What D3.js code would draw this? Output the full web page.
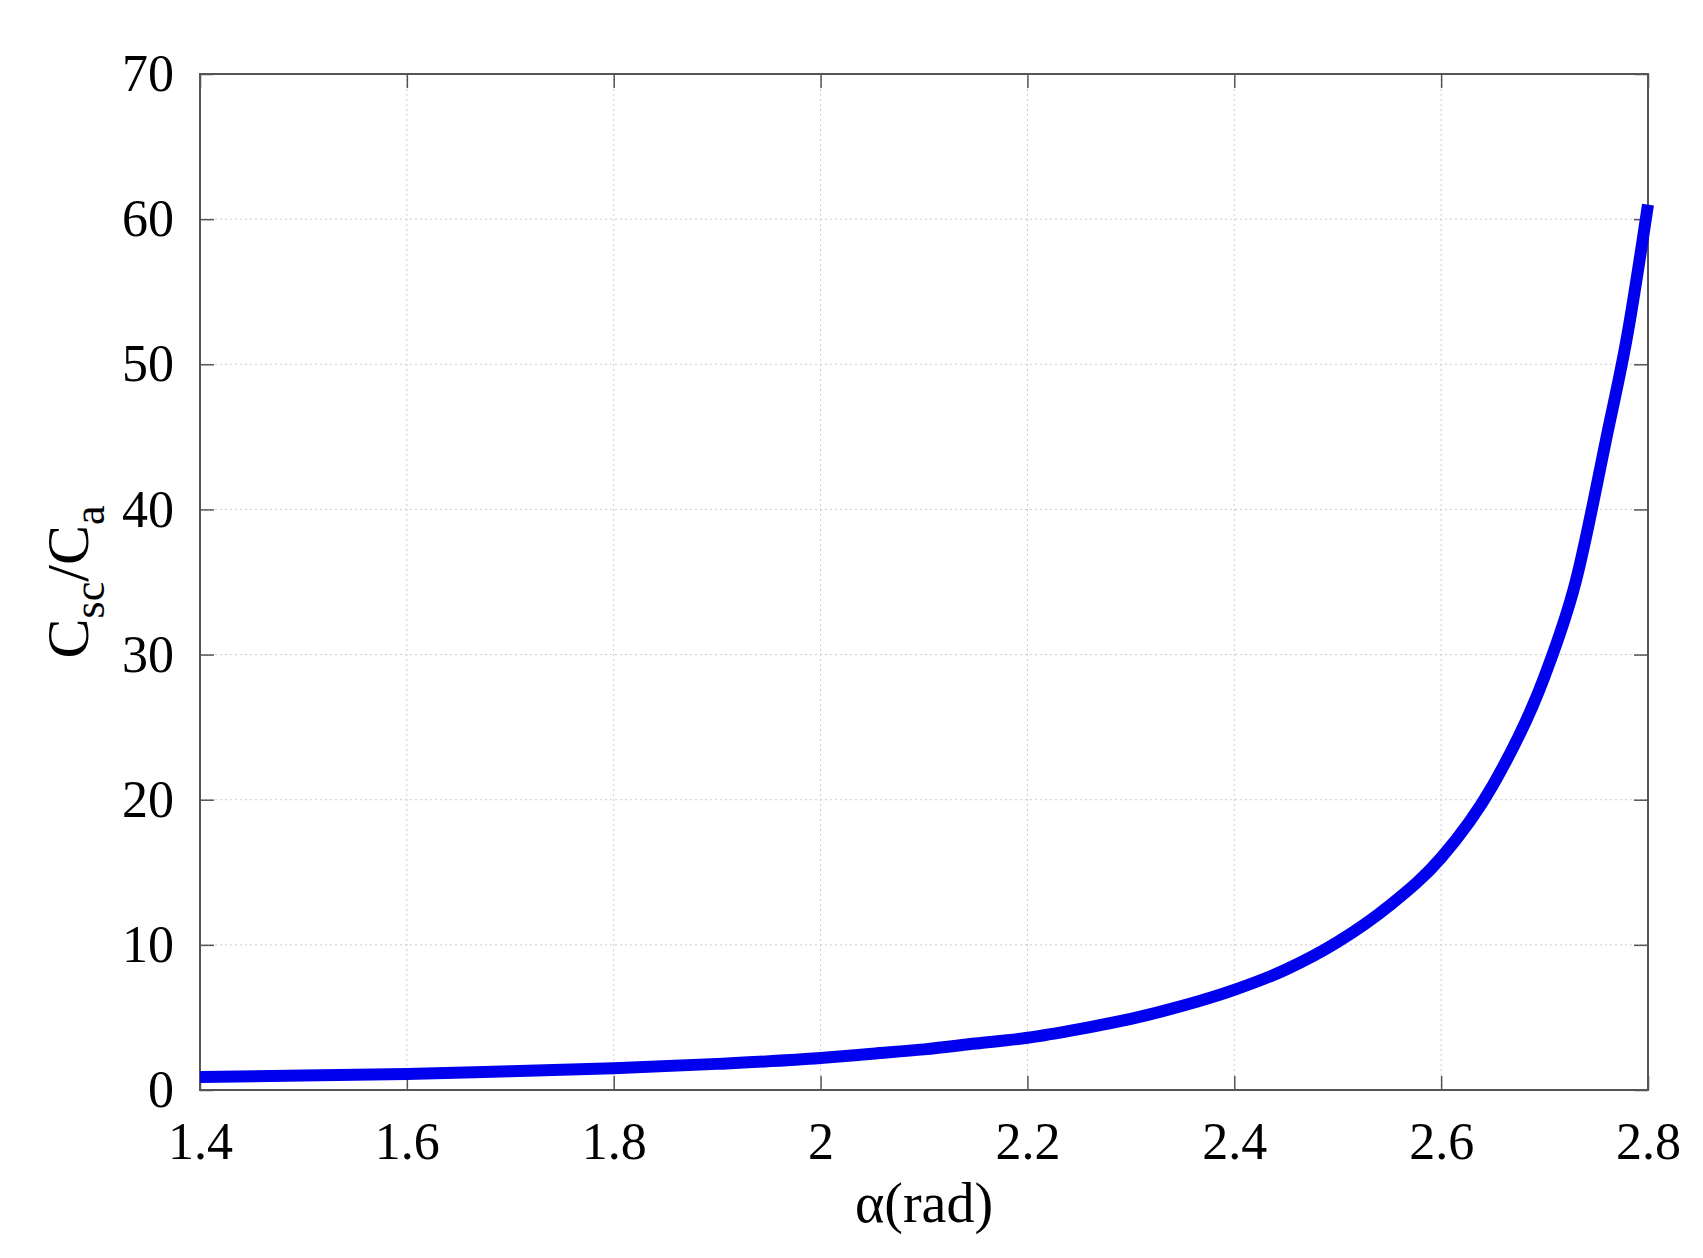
<!DOCTYPE html>
<html><head><meta charset="utf-8">
<script src="https://cdn.jsdelivr.net/npm/d3@7"></script>
<style>body{margin:0;background:#fff}</style></head>
<body><svg id="chart" width="1703" height="1258"></svg>
<script>
const alphaVals = [1.4, 1.5, 1.6, 1.7, 1.8, 1.9, 2.0, 2.05, 2.1, 2.15, 2.2, 2.25, 2.3, 2.35, 2.4, 2.45, 2.5, 2.55, 2.6, 2.65, 2.7, 2.73, 2.76, 2.78, 2.8];
const ratioVals = [0.9, 1.0, 1.1, 1.3, 1.5, 1.8, 2.2, 2.5, 2.8, 3.2, 3.6, 4.2, 4.9, 5.8, 6.9, 8.3, 10.2, 12.7, 16.0, 21.0, 28.5, 35, 45, 52, 61];
const xTicks = [1.4, 1.6, 1.8, 2, 2.2, 2.4, 2.6, 2.8];
const yTicks = [0, 10, 20, 30, 40, 50, 60, 70];

const svg = d3.select("#chart");
const pL = 200, pR = 1648, pT = 74, pB = 1090;
const x = d3.scaleLinear().domain([1.4, 2.8]).range([pL, pR]);
const y = d3.scaleLinear().domain([0, 70]).range([pB, pT]);
const font = "'Liberation Serif', 'Times New Roman', serif";

// grid
svg.append("g").selectAll("line").data(xTicks.slice(1, -1)).enter().append("line")
  .attr("x1", d => x(d)).attr("x2", d => x(d)).attr("y1", pT).attr("y2", pB)
  .attr("stroke", "#ccc").attr("stroke-dasharray", "2,3");
svg.append("g").selectAll("line").data(yTicks.slice(1, -1)).enter().append("line")
  .attr("y1", d => y(d)).attr("y2", d => y(d)).attr("x1", pL).attr("x2", pR)
  .attr("stroke", "#ccc").attr("stroke-dasharray", "2,3");

// axes with inner ticks on all sides
const tk = 14;
const ax = (g, axis) => { g.call(axis); g.select(".domain").remove();
  g.selectAll("line").attr("stroke", "#555").attr("stroke-width", 1.5);
  g.selectAll("text").attr("font-family", font).attr("font-size", 52).attr("fill", "#000"); };
svg.append("g").attr("transform", `translate(0,${pB})`)
  .call(g => ax(g, d3.axisBottom(x).tickValues(xTicks).tickFormat(d3.format("")).tickSizeInner(-tk).tickPadding(32)));
svg.append("g").attr("transform", `translate(0,${pT})`)
  .call(g => { ax(g, d3.axisTop(x).tickValues(xTicks).tickSizeInner(-tk)); g.selectAll("text").remove(); });
svg.append("g").attr("transform", `translate(${pL},0)`)
  .call(g => ax(g, d3.axisLeft(y).tickValues(yTicks).tickSizeInner(-tk).tickPadding(26)));
svg.append("g").attr("transform", `translate(${pR},0)`)
  .call(g => { ax(g, d3.axisRight(y).tickValues(yTicks).tickSizeInner(-tk)); g.selectAll("text").remove(); });

svg.append("rect").attr("x", pL).attr("y", pT).attr("width", pR - pL).attr("height", pB - pT)
  .attr("fill", "none").attr("stroke", "#555").attr("stroke-width", 2);

// curve
const data = alphaVals.map((a, i) => [a, ratioVals[i]]);
svg.append("path").datum(data)
  .attr("d", d3.line().x(d => x(d[0])).y(d => y(d[1])).curve(d3.curveMonotoneX))
  .attr("fill", "none").attr("stroke", "#0000ee").attr("stroke-width", 12);

// labels
svg.append("text").attr("x", (pL + pR) / 2).attr("y", 1222).attr("text-anchor", "middle")
  .attr("font-family", font).attr("font-size", 56).text("α(rad)");
const yl = svg.append("text").attr("transform", `translate(88,${(pT + pB) / 2}) rotate(-90)`)
  .attr("text-anchor", "middle").attr("font-family", font).attr("font-size", 60);
yl.append("tspan").text("C");
yl.append("tspan").attr("font-size", 44).attr("dy", 16).text("sc");
yl.append("tspan").attr("dy", -16).text("/C");
yl.append("tspan").attr("font-size", 44).attr("dy", 16).text("a");
</script></body></html>
